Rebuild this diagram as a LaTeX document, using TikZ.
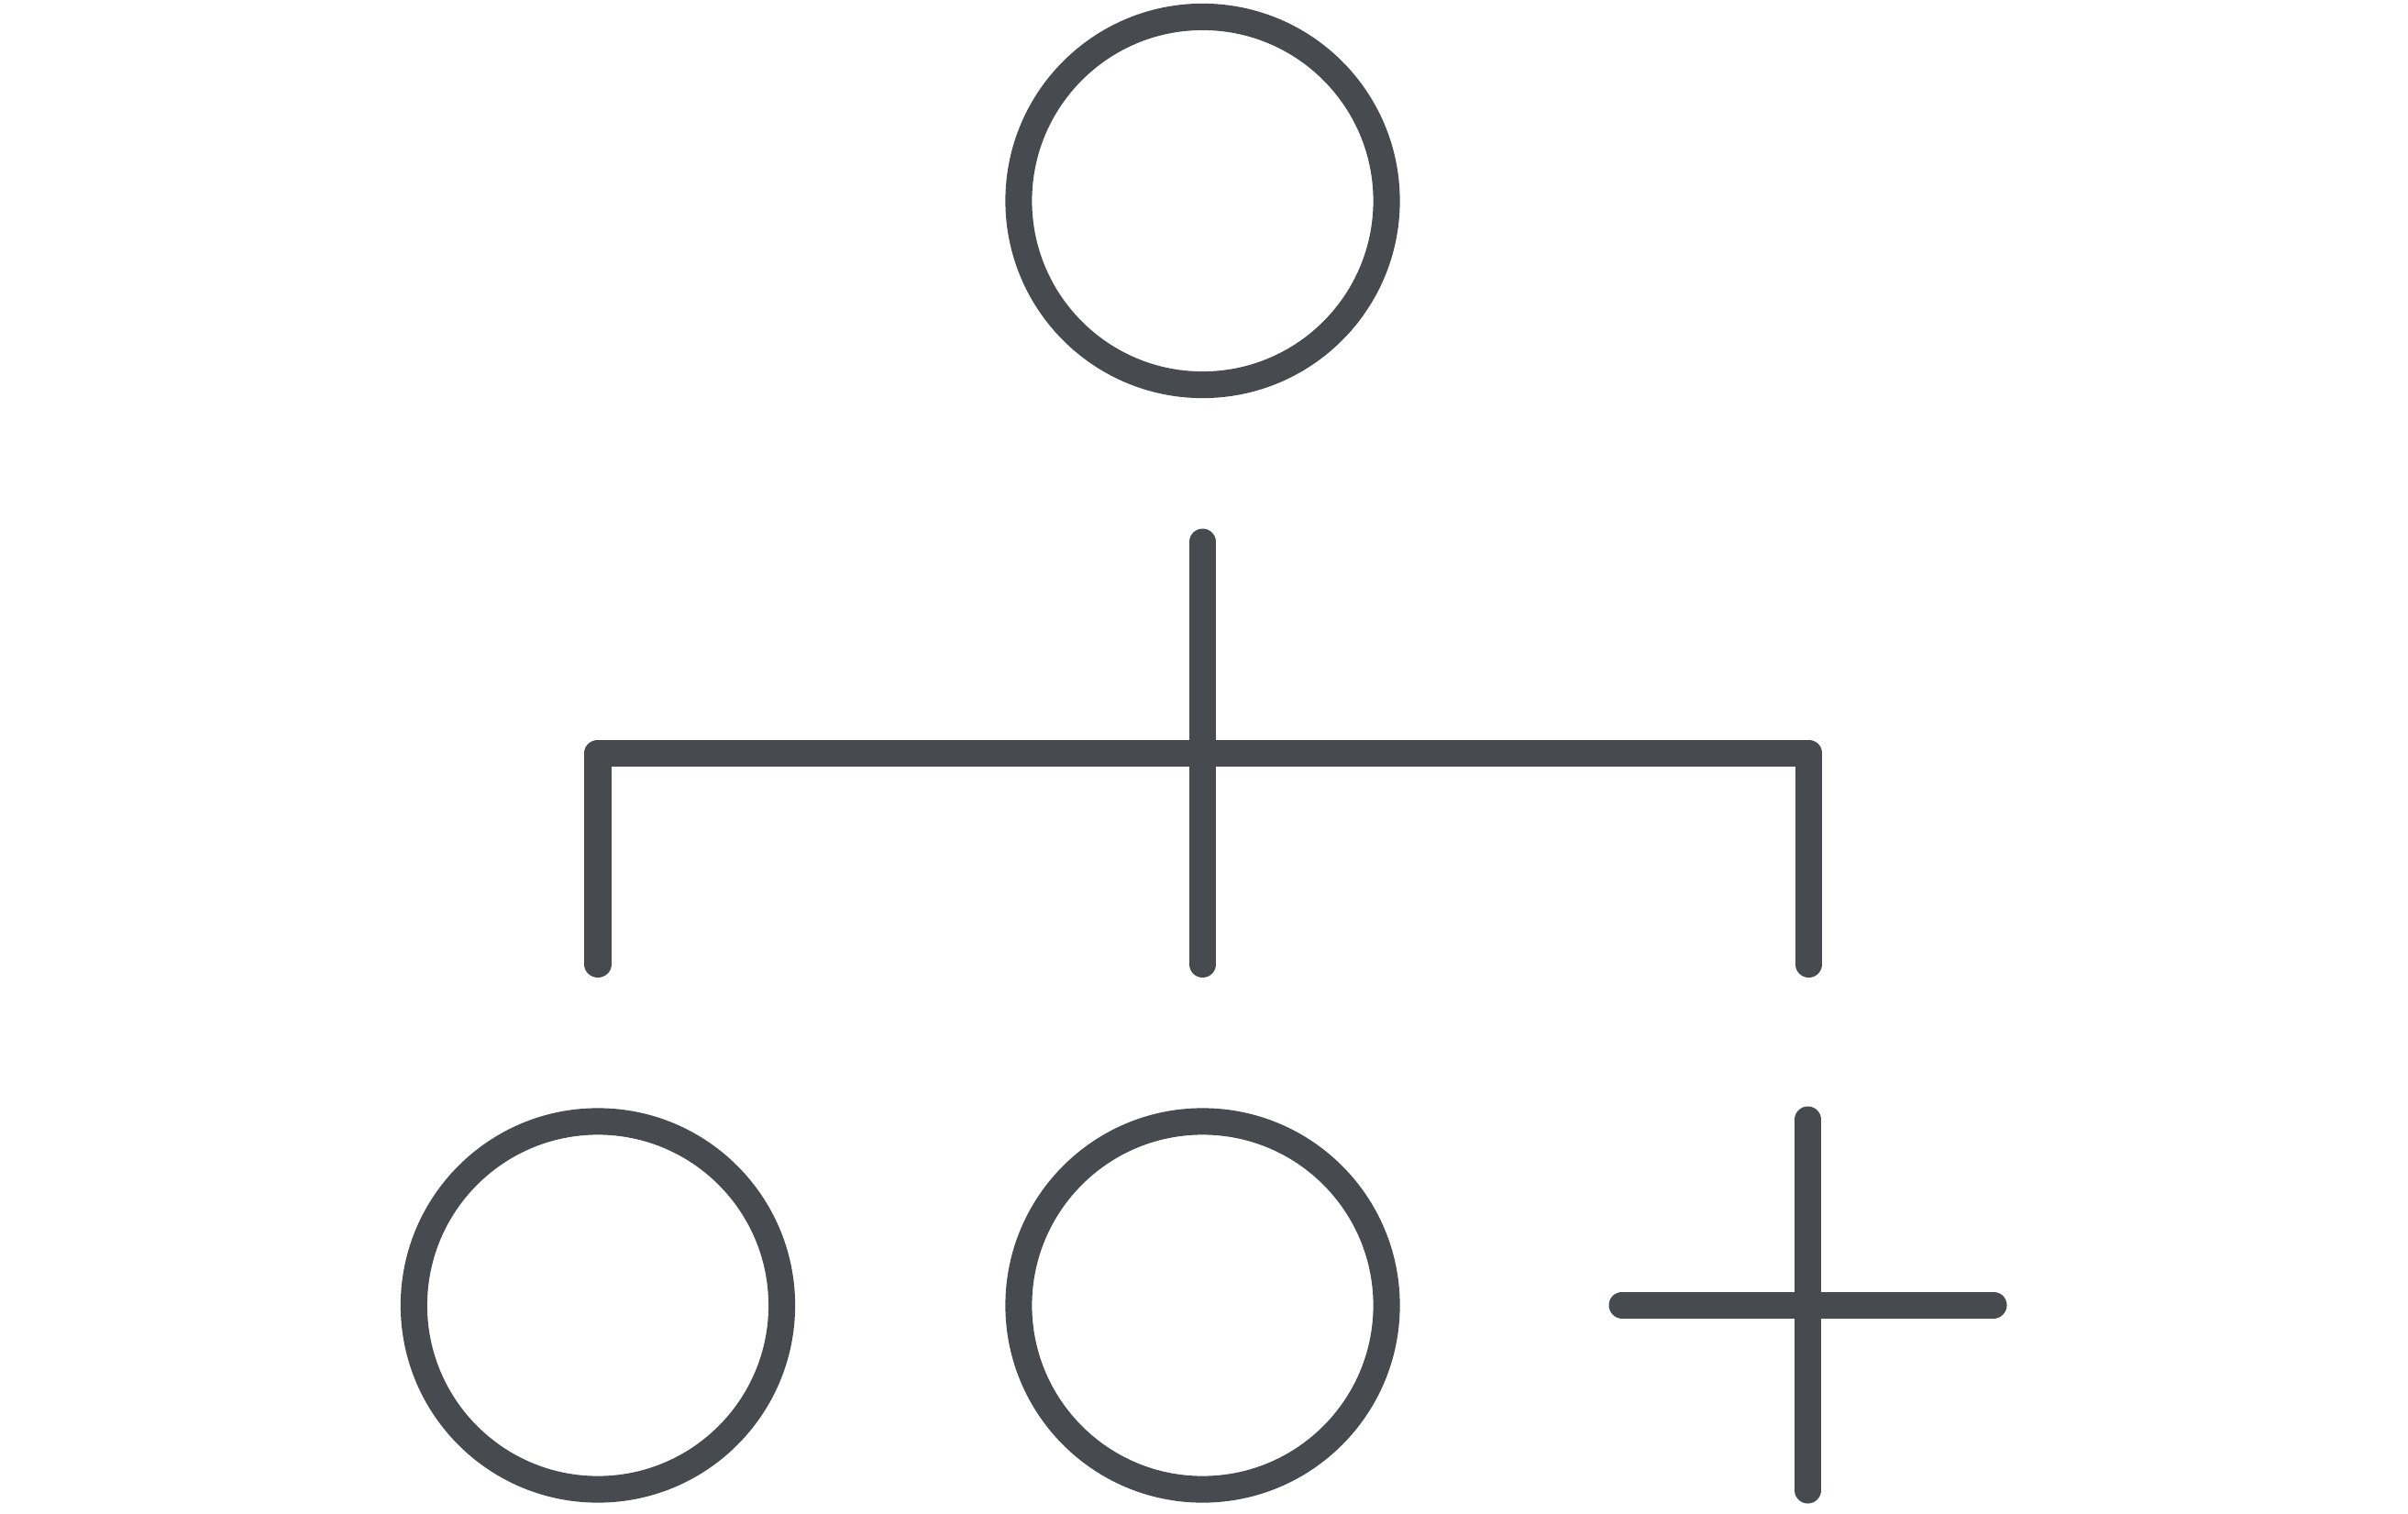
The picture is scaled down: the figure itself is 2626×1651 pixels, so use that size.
\documentclass[tikz,border=0pt]{standalone}
\usepackage{tikz}
\usetikzlibrary{calc}
\definecolor{icongray}{RGB}{71,74,79}
\tikzset{
	ring/.style={circle, draw=icongray, line width=0.29cm, minimum size=4.01cm, inner sep=0pt},
	wire/.style={icongray, line width=0.29cm, line cap=round, line join=round}
}

\begin{document}
\begin{tikzpicture}[x=0.01cm, y=-0.01cm]
	\useasboundingbox (0,0) rectangle (2626,1651);

	% people
	\node[ring] (head) at (1311.5, 219) {};
	\node[ring] (lefthead) at (652, 1423.5) {};
	\node[ring] (midhead) at (1311.5, 1423.5) {};

	% branch ends
	\coordinate (stemtop) at (1311.5, 591);
	\coordinate (stembot) at (1311.5, 1051.5);
	\coordinate (lbot) at (652, 1051.5);
	\coordinate (lcorner) at (652, 821);
	\coordinate (rcorner) at (1972.5, 821);
	\coordinate (rbot) at (1972.5, 1051.5);

	% plus sign
	\coordinate (plustop) at (1971.5, 1221);
	\coordinate (plusbot) at (1971.5, 1625);
	\coordinate (plusleft) at (1769, 1423);
	\coordinate (plusright) at (2174, 1423);

	\draw[wire] (stemtop) -- (stembot);
	\draw[wire] (lbot) -- (lcorner) -- (rcorner) -- (rbot);
	\draw[wire] (plustop) -- (plusbot);
	\draw[wire] (plusleft) -- (plusright);
\end{tikzpicture}
\end{document}
